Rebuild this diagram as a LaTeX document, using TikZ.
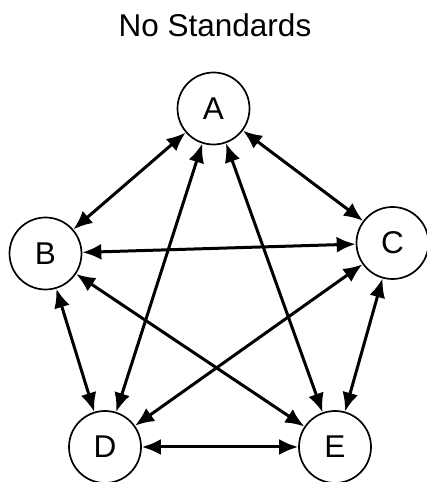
\documentclass[tikz,border=0pt]{standalone}
\usepackage{fontspec}
\setmainfont{Liberation Sans}
\usetikzlibrary{arrows.meta}

\begin{document}
\begin{tikzpicture}[x=1pt, y=1pt, every node/.style={font=\fontsize{31.5}{36}\selectfont},
    vert/.style={draw, circle, line width=1.7pt, minimum size=72pt, inner sep=0pt},
    link/.style={line width=3pt, {Latex[length=19pt,width=16pt]}-{Latex[length=19pt,width=16pt]}}]
    \useasboundingbox (0,0) rectangle (427,482);

    % Заголовок
    \node (title) at (215,457) {No Standards};

    % Вершины
    \node[vert] (A) at (213.5,373.5) {A};
    \node[vert] (B) at (45.5,228.5) {B};
    \node[vert] (C) at (392.5,239) {C};
    \node[vert] (D) at (105,35) {D};
    \node[vert] (E) at (335,35) {E};

    % Все связи
    \foreach \u/\v in {A/B,A/C,A/D,A/E,B/C,B/D,B/E,C/D,C/E,D/E}
        \draw[link] (\u) -- (\v);
\end{tikzpicture}
\end{document}
